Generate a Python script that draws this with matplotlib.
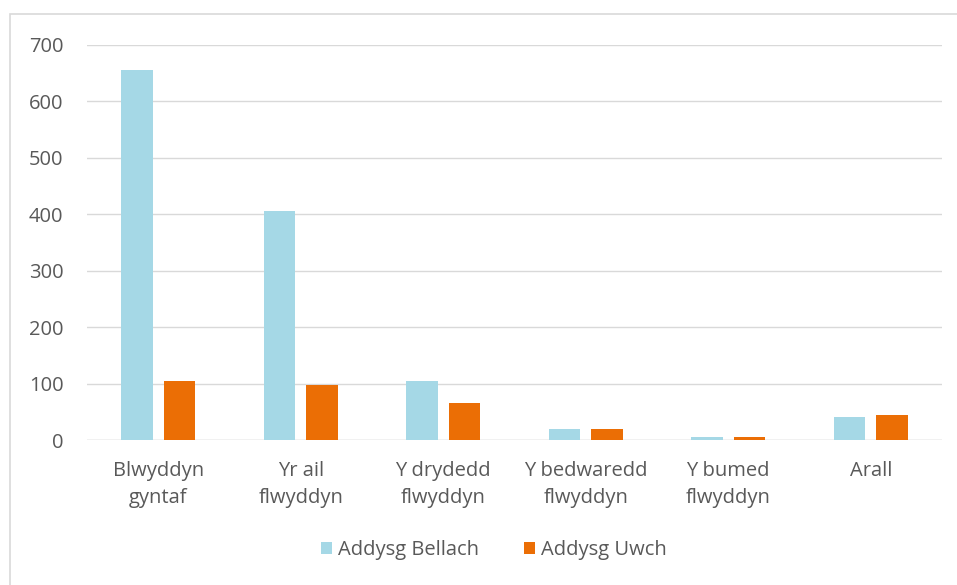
import matplotlib
matplotlib.use('Agg')
import matplotlib.pyplot as plt
import numpy as np
from matplotlib.patches import Rectangle

# categories and values
categories = ['Blwyddyn\ngyntaf', 'Yr ail\nflwyddyn', 'Y drydedd\nflwyddyn',
              'Y bedwaredd\nflwyddyn', 'Y bumed\nflwyddyn', 'Arall']
bellach = [655, 406, 105, 19, 5, 40]
uwch = [104, 97, 65, 19, 5, 44]
series_names = ['Addysg Bellach', 'Addysg Uwch']
yticks = [0, 100, 200, 300, 400, 500, 600, 700]

col_bellach = '#a5d8e6'
col_uwch = '#eb6e05'
txt_col = '#595959'
grid_col = '#d9d9d9'

plt.rcParams['font.family'] = ['Open Sans', 'DejaVu Sans']

fig = plt.figure(figsize=(9.57, 5.85), dpi=100)
ax = fig.add_axes([87 / 957, 1 - 440 / 585, (942 - 87) / 957, (440 - 45) / 585])

# chart frame (right and bottom edges fall outside the picture)
fig.patches.append(Rectangle((10 / 957, -0.01), 1.0, 1 - 14 / 585 + 0.01,
                             transform=fig.transFigure, fill=False,
                             edgecolor='#d9d9d9', linewidth=1.2))

x = np.arange(len(categories))
w = 0.22
ax.bar(x - 0.15, bellach, w, color=col_bellach, label=series_names[0], zorder=3)
ax.bar(x + 0.15, uwch, w, color=col_uwch, label=series_names[1], zorder=3)

ax.set_xlim(-0.5, len(categories) - 0.5)
ax.set_ylim(0, 700)
ax.set_yticks(yticks)
ax.set_xticks(x)
ax.set_xticklabels(categories, linespacing=1.45)
ax.yaxis.grid(True, color=grid_col, linewidth=1, zorder=0)
ax.set_axisbelow(True)
for s in ax.spines.values():
    s.set_visible(False)
ax.tick_params(axis='both', length=0, colors=txt_col, labelsize=14.5)
ax.tick_params(axis='y', pad=17)
ax.tick_params(axis='x', pad=15)
ax.axhline(0, color=grid_col, linewidth=1, zorder=2)

ax.legend(loc='center', bbox_to_anchor=(0.5 - 0.024, -0.278), ncol=2, frameon=False,
          fontsize=14.5, labelcolor=txt_col, handlelength=0.55, handleheight=0.55,
          handletextpad=0.3, columnspacing=2.2)

plt.savefig('out.png', dpi=100)
